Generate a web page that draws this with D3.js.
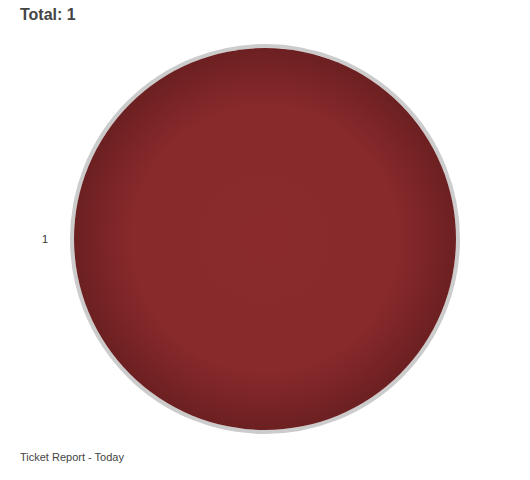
<!DOCTYPE html>
<html><head><meta charset="utf-8">
<script src="https://cdn.jsdelivr.net/npm/d3@7"></script>
<style>body{margin:0;background:#fff;}svg{display:block;}</style>
</head><body>
<script>
const categories = ["1"];
const values = [1];
const titleText = "Total: " + d3.sum(values);
const footerText = "Ticket Report - Today";

const W = 530, H = 480;
const svg = d3.select("body").append("svg").attr("width", W).attr("height", H);
const defs = svg.append("defs");
const grad = defs.append("radialGradient").attr("id", "rg").attr("gradientUnits", "userSpaceOnUse")
  .attr("cx", 0).attr("cy", 0).attr("r", 191);
grad.append("stop").attr("offset", "0%").attr("stop-color", "#8a2a2c");
grad.append("stop").attr("offset", "70%").attr("stop-color", "#88292c");
grad.append("stop").attr("offset", "100%").attr("stop-color", "#6c2021");

const cx = 265, cy = 239, R = 191;
const color = d3.scaleOrdinal().domain(categories).range(["url(#rg)"]);
const pie = d3.pie().sort(null).value(d => d.v);
const arcs = pie(categories.map((c, i) => ({c, v: values[i]})));
const arc = d3.arc().innerRadius(0).outerRadius(R);
const g = svg.append("g").attr("transform", `translate(${cx},${cy})`);
g.append("circle").attr("r", R + 2).attr("fill", "none").attr("stroke", "#cccccc").attr("stroke-width", 4);
g.selectAll("path.slice").data(arcs).join("path").attr("class", "slice")
  .attr("d", arc).attr("fill", d => color(d.data.c));

g.selectAll("text.lbl").data(arcs).join("text").attr("class", "lbl")
  .attr("x", -(R + 29)).attr("y", 4)
  .attr("text-anchor", "middle")
  .attr("font-family", "Arial, 'Liberation Sans', sans-serif").attr("font-size", 11).attr("fill", "#333")
  .text(d => d.data.c);

svg.append("text").attr("x", 20).attr("y", 20)
  .attr("font-family", "Arial, 'Liberation Sans', sans-serif").attr("font-size", 16).attr("font-weight", "bold")
  .attr("fill", "#444").text(titleText);
svg.append("text").attr("x", 20).attr("y", 461)
  .attr("font-family", "Arial, 'Liberation Sans', sans-serif").attr("font-size", 11)
  .attr("fill", "#444").text(footerText);
</script>
</body></html>
